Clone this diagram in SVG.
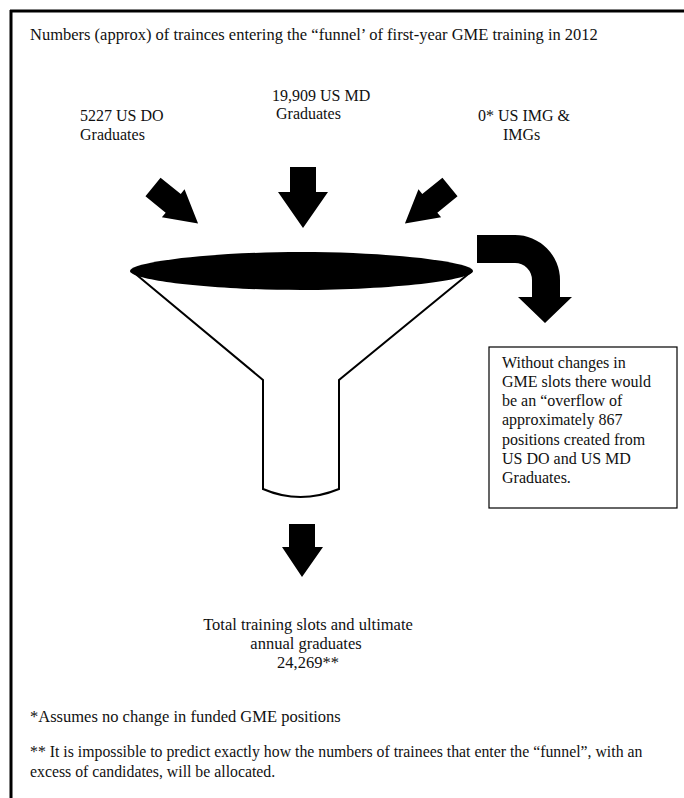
<svg xmlns="http://www.w3.org/2000/svg" width="684" height="798" viewBox="0 0 684 798">
<style>
text{font-family:"Liberation Serif","Times New Roman",serif;fill:#111}
.t16{font-size:16px}
.t165{font-size:16.5px}
.blk{fill:#000}
.ln{fill:none;stroke:#000;stroke-width:2}
</style>
<rect x="0" y="0" width="684" height="798" fill="#fff"/>
<g id="frame">
<line x1="10" y1="11" x2="684" y2="11" stroke="#000" stroke-width="3"/>
<line x1="11" y1="10" x2="11" y2="798" stroke="#000" stroke-width="3"/>
</g>
<g id="title"><text class="t165" x="30" y="40">Numbers (approx) of trainces entering the “funnel’ of first-year GME training in 2012</text></g>
<g id="do"><text class="t16" x="80" y="121">5227 US DO</text><text class="t16" x="80" y="140">Graduates</text></g>
<g id="md"><text class="t16" x="272" y="101">19,909 US MD</text><text class="t16" x="276" y="119">Graduates</text></g>
<g id="img"><text class="t16" x="478" y="121">0* US IMG &amp;</text><text class="t16" x="503" y="140">IMGs</text></g>
<g id="connectors">
<path class="blk" transform="translate(153,187) rotate(-51)" d="M-12,0 L12,0 L12,26 L18,26 L0,58 L-18,26 L-12,26 Z"/>
<path class="blk" d="M290,167 L316,167 L316,192 L328,192 L303,228 L278,192 L290,192 Z"/>
<path class="blk" transform="translate(450,187) rotate(51)" d="M-12,0 L12,0 L12,26 L18,26 L0,58 L-18,26 L-12,26 Z"/>
<path class="blk" d="M477,235 L515,235 A45,45 0 0 1 560,280 L560,297 L572,297 L545,323 L518,297 L532,297 L532,280 A17,17 0 0 0 515,263 L477,263 Z"/>
<path class="blk" d="M289,524 L315,524 L315,547 L323,547 L302,577 L282,547 L289,547 Z"/>
</g>
<g id="funnel">
<path class="ln" d="M132,271 L263,380 L263,489 Q300,505 339,489 L339,380 L472,271"/>
<path class="blk" d="M130,271 C130,262 210,252 301,252 C392,252 473,262 473,271 C473,280 392,290 301,290 C210,290 130,280 130,271 Z"/>
</g>
<g id="overflow">
<rect x="489" y="347" width="188" height="161" fill="#fff" stroke="#000" stroke-width="1.2"/>
<text class="t16" x="502" y="368">Without changes in</text>
<text class="t16" x="502" y="387">GME slots there would</text>
<text class="t16" x="502" y="406">be an “overflow of</text>
<text class="t16" x="502" y="425">approximately 867</text>
<text class="t16" x="502" y="445">positions created from</text>
<text class="t16" x="502" y="464">US DO and US MD</text>
<text class="t16" x="502" y="483">Graduates.</text>
</g>
<g id="total" text-anchor="middle">
<text class="t165" x="308" y="630">Total training slots and ultimate</text>
<text class="t165" x="306" y="649">annual graduates</text>
<text class="t165" x="308" y="668">24,269**</text>
</g>
<g id="notes">
<text class="t165" x="30" y="722">*Assumes no change in funded GME positions</text>
<text x="30" y="757" style="font-size:15.8px">** It is impossible to predict exactly how the numbers of trainees that enter the “funnel”, with an</text>
<text x="30" y="777" style="font-size:15.8px">excess of candidates, will be allocated.</text>
</g>
</svg>
